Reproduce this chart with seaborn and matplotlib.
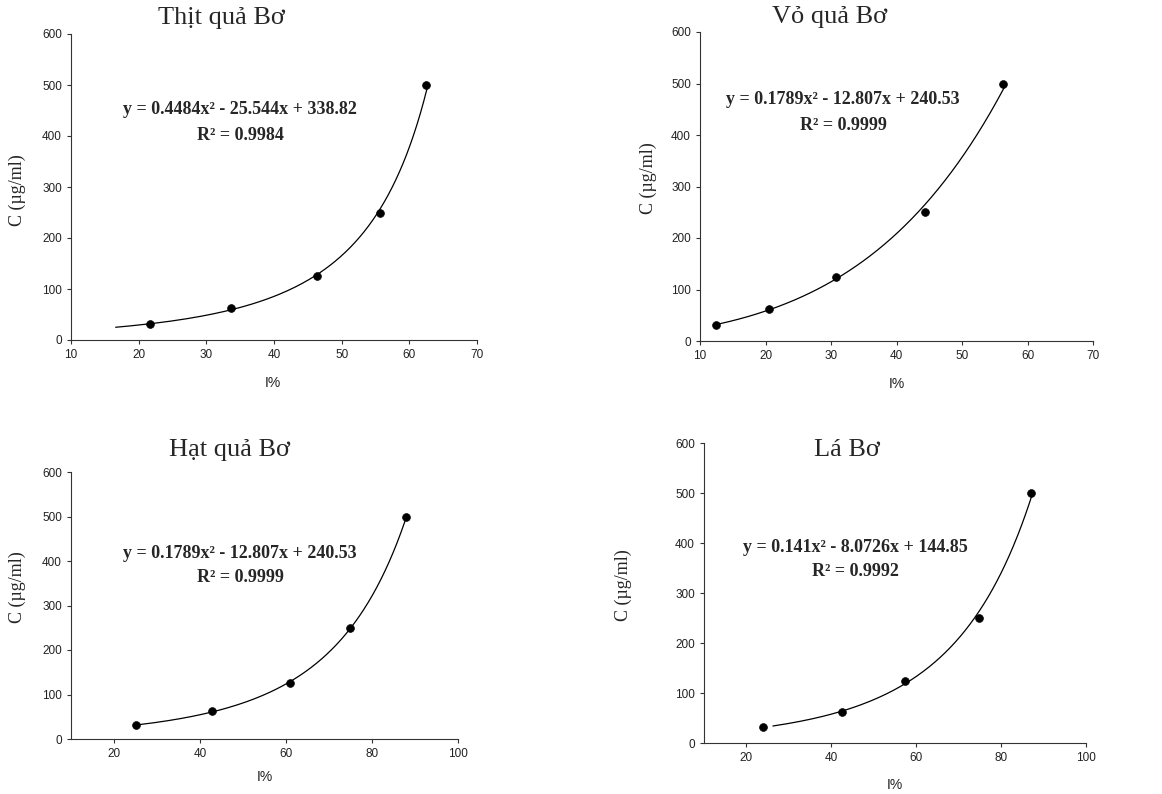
import numpy as np
import pandas as pd
import matplotlib
matplotlib.use("Agg")
import matplotlib.pyplot as plt
import seaborn as sns

sns.set_style("ticks")
plt.rcParams['font.family'] = ['Liberation Sans', 'DejaVu Sans']

# ---- data ----
conc = [31.25, 62.5, 125, 250, 500]
titles = ["Thịt quả Bơ", "Vỏ quả Bơ", "Hạt quả Bơ", "Lá Bơ"]
inh_thit = [21.7, 33.7, 46.4, 55.7, 62.5]
inh_vo = [12.5, 20.6, 30.8, 44.4, 56.3]
inh_hat = [25.2, 42.7, 61.0, 74.9, 88.0]
inh_la = [23.9, 42.5, 57.4, 74.8, 87.1]
equations = ["y = 0.4484x² - 25.544x + 338.82",
             "y = 0.1789x² - 12.807x + 240.53",
             "y = 0.1789x² - 12.807x + 240.53",
             "y = 0.141x² - 8.0726x + 144.85"]
r2 = ["R² = 0.9984", "R² = 0.9999", "R² = 0.9999", "R² = 0.9992"]
xlims = [(10, 70), (10, 70), (10, 100), (10, 100)]
xticks = [[10, 20, 30, 40, 50, 60, 70], [10, 20, 30, 40, 50, 60, 70],
          [20, 40, 60, 80, 100], [20, 40, 60, 80, 100]]
yticks = [0, 100, 200, 300, 400, 500, 600]
curve_c_range = [(25, 500), (33, 500), (32, 500), (34, 505)]

W, H = 1162, 794
fig = plt.figure(figsize=(W / 100, H / 100), dpi=100)

def fx(px):
    return px / W

def fy(py):
    return 1 - py / H

# axes boxes in pixels: left, right, top, bottom
boxes = [(71, 477, 34, 340), (700, 1093, 32, 341), (71, 458, 472, 739), (704, 1086, 443, 743)]
title_pos = [(221, 18), (830, 17), (230, 450), (847, 450)]
eq_pos = [(240, 110), (843, 100), (240, 553), (855, 548)]
r2_pos = [(240, 135), (843, 125), (240, 577), (855, 572)]
ylab_pos = [(17, 190), (648, 178), (17, 587), (623, 585)]
xlab_pos = [(273, 383), (897, 384), (265, 777), (895, 785)]

inh_all = [inh_thit, inh_vo, inh_hat, inh_la]

for i in range(4):
    l, r, t, b = boxes[i]
    ax = fig.add_axes([fx(l), fy(b), (r - l) / W, (b - t) / H])
    df = pd.DataFrame({"I": inh_all[i], "C": conc})
    # smooth trend curve: I% as quadratic in ln(C)
    coef = np.polyfit(np.log(df["C"]), df["I"], 2)
    cgrid = np.linspace(curve_c_range[i][0], curve_c_range[i][1], 200)
    cdf = pd.DataFrame({"C": cgrid, "I": np.polyval(coef, np.log(cgrid))})
    sns.lineplot(data=cdf, x="I", y="C", sort=False, color="black", lw=0.9, ax=ax)
    sns.scatterplot(data=df, x="I", y="C", color="black", s=32, edgecolor="black", zorder=3, ax=ax)
    ax.set_xlim(*xlims[i])
    ax.set_ylim(0, 600)
    ax.set_xticks(xticks[i])
    ax.set_yticks(yticks)
    ax.set_xlabel("")
    ax.set_ylabel("")
    sns.despine(ax=ax)
    for sp in ["left", "bottom"]:
        ax.spines[sp].set_linewidth(0.8)
        ax.spines[sp].set_color("#333333")
    ax.tick_params(labelsize=8.5, length=3, width=0.8, color="#333333", labelcolor="#222222")
    fig.text(fx(title_pos[i][0]), fy(title_pos[i][1]), titles[i], ha="center", va="center",
             family=["Liberation Serif"], fontsize=19)
    fig.text(fx(eq_pos[i][0]), fy(eq_pos[i][1]), equations[i], ha="center", va="center",
             family=["Liberation Serif"], fontsize=13, fontweight="bold")
    fig.text(fx(r2_pos[i][0]), fy(r2_pos[i][1]), r2[i], ha="center", va="center",
             family=["Liberation Serif"], fontsize=13, fontweight="bold")
    fig.text(fx(ylab_pos[i][0]), fy(ylab_pos[i][1]), "C (µg/ml)", ha="center", va="center",
             rotation=90, family=["Liberation Serif"], fontsize=13)
    fig.text(fx(xlab_pos[i][0]), fy(xlab_pos[i][1]), "I%", ha="center", va="center",
             family=["Liberation Sans"], fontsize=10, color="#222222")

fig.savefig("out.png", dpi=100)
